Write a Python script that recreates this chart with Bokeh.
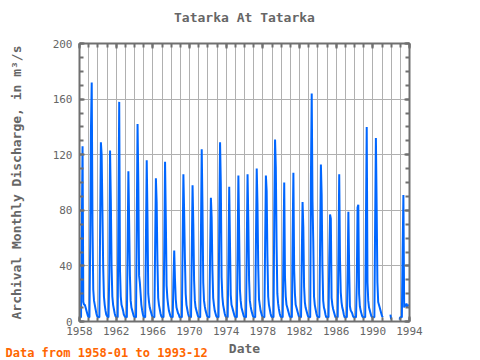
import math
from bokeh.plotting import figure
from bokeh.models import FixedTicker, Range1d, LinearAxis, Title
from bokeh.embed import file_html
from bokeh.resources import INLINE

# Monthly discharge (m3/s), Jan..Dec
flow_1958 = [3, 3, 3, 65, 126, 14, 12, 12, 10, 8, 6, 4]
flow_1959 = [3, 3, 56, 138, 172, 69, 23, 15, 12, 9, 6, 4]
flow_1960 = [3, 3, 3, 68, 129, 120, 80, 39, 18, 12, 8, 5]
flow_1961 = [4, 3, 3, 35, 123, 88, 39, 18, 12, 9, 6, 4]
flow_1962 = [3, 3, 3, 82, 158, 37, 18, 12, 10, 8, 5, 4]
flow_1963 = [3, 3, 3, 55, 108, 71, 33, 15, 10, 8, 6, 4]
flow_1964 = [3, 3, 3, 74, 142, 100, 33, 28, 20, 12, 8, 5]
flow_1965 = [3, 3, 3, 61, 116, 75, 20, 14, 10, 8, 6, 4]
flow_1966 = [3, 3, 3, 54, 103, 86, 44, 17, 12, 9, 6, 4]
flow_1967 = [3, 3, 3, 55, 115, 74, 26, 17, 12, 8, 6, 4]
flow_1968 = [3, 3, 3, 30, 51, 30, 16, 10, 8, 6, 5, 3]
flow_1969 = [3, 3, 3, 56, 106, 78, 45, 20, 12, 9, 6, 4]
flow_1970 = [3, 3, 3, 51, 98, 70, 30, 15, 10, 8, 6, 4]
flow_1971 = [3, 3, 3, 64, 124, 82, 28, 15, 11, 8, 6, 4]
flow_1972 = [3, 3, 3, 50, 89, 75, 37, 17, 12, 8, 6, 4]
flow_1973 = [3, 3, 3, 73, 129, 99, 32, 18, 12, 9, 6, 4]
flow_1974 = [3, 3, 3, 46, 97, 56, 19, 12, 10, 8, 6, 4]
flow_1975 = [3, 3, 3, 53, 105, 63, 23, 15, 10, 8, 6, 4]
flow_1976 = [3, 3, 3, 56, 106, 73, 30, 15, 11, 8, 6, 4]
flow_1977 = [3, 3, 3, 59, 110, 84, 39, 16, 12, 8, 6, 4]
flow_1978 = [3, 3, 3, 56, 105, 94, 47, 18, 12, 9, 6, 4]
flow_1979 = [3, 3, 3, 81, 131, 111, 55, 20, 13, 9, 6, 4]
flow_1980 = [3, 3, 3, 52, 100, 32, 18, 12, 10, 8, 6, 4]
flow_1981 = [3, 3, 3, 61, 107, 37, 20, 12, 10, 8, 6, 4]
flow_1982 = [3, 3, 3, 47, 86, 68, 25, 14, 10, 8, 6, 4]
flow_1983 = [3, 3, 3, 106, 164, 87, 58, 18, 12, 9, 6, 4]
flow_1984 = [3, 3, 3, 58, 113, 91, 40, 15, 10, 8, 5, 3]
flow_1985 = [3, 3, 3, 46, 77, 74, 17, 12, 9, 7, 5, 3]
flow_1986 = [3, 3, 3, 50, 106, 45, 21, 14, 10, 8, 5, 3]
flow_1987 = [3, 3, 3, 36, 79, 38, 11, 8, 7, 6, 4, 3]
flow_1988 = [3, 3, 3, 29, 82, 84, 20, 11, 8, 6, 4, 3]
flow_1989 = [3, 3, 3, 73, 140, 28, 15, 10, 8, 6, 4, 3]
flow_1990 = [3, 3, 3, 70, 132, 82, 28, 14, 12, 10, 8, 6]
flow_1991 = [4, 3, None, None, None, None, None, None, None, None, None, 5]
flow_1992 = [1.5, None, None, None, None, None, None, None, None, None, 2, 2]
flow_1993 = [3, 3, 3, 50, 91, 10, 12, 11, 13, 10, 12, 11]

years = list(range(1958, 1994))
x_ticks = [1958, 1962, 1966, 1970, 1974, 1978, 1982, 1986, 1990, 1994]
y_ticks = [0, 40, 80, 120, 160, 200]

all_years = [flow_1958, flow_1959, flow_1960, flow_1961, flow_1962, flow_1963,
             flow_1964, flow_1965, flow_1966, flow_1967, flow_1968, flow_1969,
             flow_1970, flow_1971, flow_1972, flow_1973, flow_1974, flow_1975,
             flow_1976, flow_1977, flow_1978, flow_1979, flow_1980, flow_1981,
             flow_1982, flow_1983, flow_1984, flow_1985, flow_1986, flow_1987,
             flow_1988, flow_1989, flow_1990, flow_1991, flow_1992, flow_1993]

xs, ys = [], []
for yr, vals in zip(years, all_years):
    for m, v in enumerate(vals):
        xs.append(yr + m / 12.0)
        ys.append(float("nan") if v is None else v)

FONT = "DejaVu Sans Mono"
GREY = "#707070"
TXT = "#666666"
W, H = 470, 358
FL, FT, FW, FH = 79, 43, 330, 278

p = figure(width=W, height=H, output_backend="svg", toolbar_location=None,
           x_range=Range1d(1958, 1994), y_range=Range1d(0, 200),
           min_border_left=FL, min_border_right=W - FL - FW, min_border_top=FT,
           min_border_bottom=H - FT - FH)
p.background_fill_color = "white"
p.border_fill_color = "white"
p.outline_line_color = None

p.line(xs, ys, line_color="#0066ff", line_width=2)

xt = FixedTicker(ticks=x_ticks, minor_ticks=list(range(1958, 1995)))
yt = FixedTicker(ticks=y_ticks, minor_ticks=list(range(0, 201, 10)))

bottom = p.below[0]
left = p.left[0]
bottom.ticker = xt
left.ticker = yt
bottom.axis_label = "Date"
left.axis_label = "Archival Monthly Discharge, in m³/s"

top = LinearAxis(ticker=xt, axis_label="Tatarka At Tatarka")
right = LinearAxis(ticker=yt)
p.add_layout(top, "above")
p.add_layout(right, "right")

for ax in [bottom, left, top, right]:
    ax.axis_line_color = GREY
    ax.axis_line_width = 2
    ax.major_tick_line_color = GREY
    ax.minor_tick_line_color = GREY
    ax.major_tick_line_width = 2
    ax.minor_tick_line_width = 2
    ax.major_tick_in = 5
    ax.major_tick_out = 0
    ax.minor_tick_in = 4
    ax.minor_tick_out = 0
    ax.major_label_text_font = FONT
    ax.major_label_text_font_size = "11px"
    ax.major_label_text_color = TXT
    ax.axis_label_text_font = FONT
    ax.axis_label_text_font_size = "13px"
    ax.axis_label_text_color = TXT
    ax.axis_label_text_font_style = "bold"

for ax in [top, right]:
    ax.major_label_text_color = None
    ax.major_label_text_font_size = "1px"
    ax.major_label_standoff = 0

top.axis_label_standoff = 19
bottom.major_label_standoff = 5
left.major_label_standoff = 7
bottom.axis_label_standoff = 3
left.axis_label_standoff = 26

p.xgrid.grid_line_color = "#b0b0b0"
p.xgrid.minor_grid_line_color = "#b0b0b0"
p.ygrid.grid_line_color = "#b0b0b0"
p.xgrid.grid_line_width = 1
p.ygrid.grid_line_width = 1

note = Title(text="Data from 1958-01 to 1993-12", align="left", offset=-74,
             vertical_align="top", standoff=-26,
             text_font=FONT, text_font_size="12px", text_font_style="bold",
             text_color="#ff6600")
p.add_layout(note, "below")

open("out.html", "w").write(file_html(p, INLINE))
